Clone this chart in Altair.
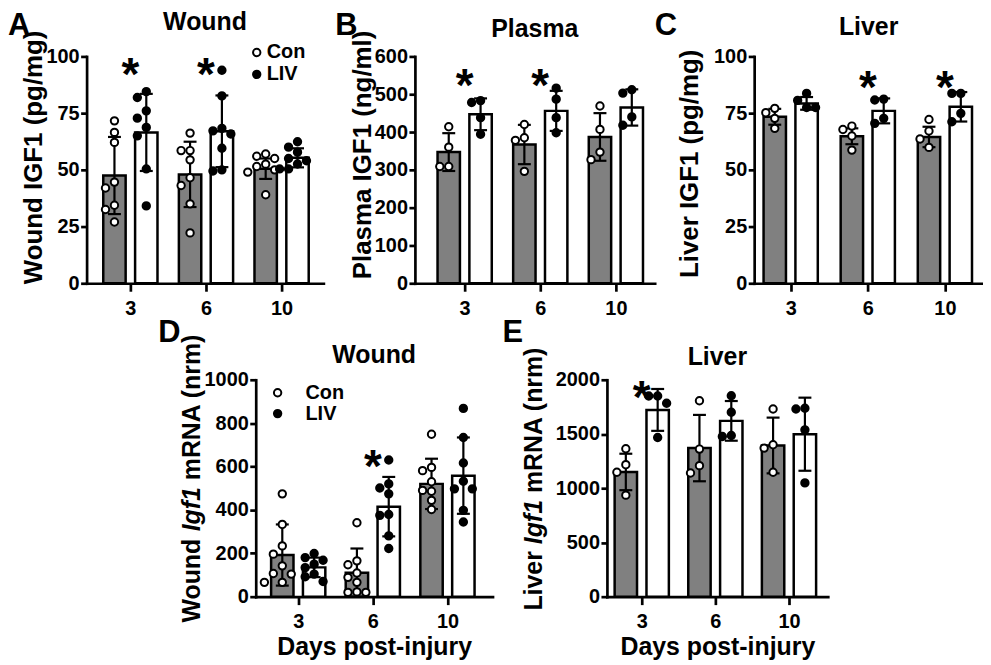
import altair as alt
import pandas as pd

FONT = "Liberation Sans"
days = ["3", "6", "10"]
groups = ["Con", "LIV"]

# ---------------- Panel A: Wound IGF1 (pg/mg)
a_con = [[71.6, 66.5, 62.1, 44.6, 42.0, 34.4, 32.5, 27.0],
         [66.2, 58.5, 58.5, 54.4, 46.5, 43.1, 35.0, 22.2],
         [57.0, 56.0, 55.0, 52.5, 51.5, 50.0, 49.0, 39.0]]
a_liv = [[84.5, 81.9, 76.0, 72.8, 68.7, 65.0, 50.4, 34.1],
         [93.9, 82.6, 68.3, 67.2, 65.8, 59.5, 50.0, 49.5],
         [62.4, 60.0, 57.8, 55.0, 54.0, 52.6, 50.4, 50.4]]
a_con_mean = [47.5, 48.0, 50.5]
a_con_sd = [17.0, 14.4, 4.5]
a_liv_mean = [66.5, 67.0, 55.3]
a_liv_sd = [17.0, 15.8, 4.2]
a_star_days = ["3", "6"]
a_star_y = [97, 97]

# ---------------- Panel B: Plasma IGF1 (ng/ml)
b_con = [[414, 360, 309, 309], [420, 385, 378, 296], [469, 407, 347, 327]]
b_liv = [[483, 478, 438, 394], [516, 487, 438, 398], [512, 503, 440, 418]]
b_con_mean = [347, 367, 387]
b_con_sd = [50, 52, 63]
b_liv_mean = [447, 456, 465]
b_liv_sd = [42, 53, 48]
b_star_days = ["3", "6"]
b_star_y = [553, 553]

# ---------------- Panel C: Liver IGF1 (pg/mg)
c_con = [[77.1, 75.2, 72.7, 68.3], [69.3, 67.8, 64.9, 58.7], [72.2, 67.1, 63.6, 59.9]]
c_liv = [[83.7, 80.6, 77.5, 77.5], [81.2, 80.8, 72.7, 70.5], [83.7, 83.7, 74.9, 71.2]]
c_con_mean = [73.4, 64.8, 64.5]
c_con_sd = [3.5, 3.5, 4.5]
c_liv_mean = [79.3, 76.0, 77.8]
c_liv_sd = [2.8, 5.5, 6.5]
c_star_days = ["6", "10"]
c_star_y = [91.4, 91.4]

# ---------------- Panel D: Wound Igf1 mRNA (nrm)
d_con = [[474, 333, 234, 196, 142, 107, 104, 66, 66],
         [341, 165, 147, 109, 89, 66, 22, 20, 20],
         [749, 596, 581, 530, 490, 486, 444, 402]]
d_liv = [[199, 180, 168, 150, 134, 104, 92, 70],
         [630, 520, 501, 474, 379, 375, 280, 222],
         [868, 734, 616, 532, 497, 497, 398, 344]]
d_con_mean = [192, 110, 520]
d_con_sd = [141, 112, 116]
d_liv_mean = [135, 415, 558]
d_liv_sd = [45, 137, 176]
d_star_days = ["6"]
d_star_y = [654]

# ---------------- Panel E: Liver Igf1 mRNA (nrm)
e_con = [[1364, 1217, 1147, 936], [1807, 1361, 1208, 1140], [1731, 1401, 1370, 1147]]
e_liv = [[1850, 1850, 1783, 1468], [1853, 1700, 1486, 1477], [1737, 1731, 1538, 1049]]
e_con_mean = [1150, 1370, 1394]
e_con_sd = [168, 306, 257]
e_liv_mean = [1722, 1621, 1498]
e_liv_sd = [193, 183, 337]
e_star_days = ["3"]
e_star_y = [1940]

# Arial/Liberation bold advance widths (em) for composing mixed-style titles
ADV = {"W": 0.944, "o": 0.611, "u": 0.611, "n": 0.611, "d": 0.611, " ": 0.278,
       "L": 0.611, "i": 0.278, "v": 0.556, "e": 0.556, "r": 0.389, "I": 0.278,
       "g": 0.611, "f": 0.333, "1": 0.556}


def text_width(s, fs):
    return sum(ADV.get(ch, 0.6) for ch in s) * fs


def swarm(vals, ppu, diam=9.0):
    order = sorted(range(len(vals)), key=lambda i: -vals[i])
    placed, slots = [], [0] * len(vals)
    for i in order:
        y = vals[i] * ppu
        for s in (0, -1, 1, -2, 2, -3, 3):
            if all(abs(y - py) >= diam for ps, py in placed if ps == s):
                break
        placed.append((s, y))
        slots[i] = s
    return slots


dummy = pd.DataFrame({"k": [0]})
LEFT_EDGE = -79


def txt(text, x, y, **kw):
    opts = dict(font=FONT, color="black", fontWeight="bold")
    opts.update(kw)
    return alt.Chart(dummy).mark_text(text=text, **opts).encode(
        x=alt.value(x), y=alt.value(y))


def dot(x, y, fill):
    return alt.Chart(dummy).mark_point(
        shape="circle", filled=True, size=55, stroke="black", strokeWidth=2,
        fill=fill, opacity=1).encode(x=alt.value(x), y=alt.value(y))


def panel(p):
    W, H, step, left = p["W"], p["H"], p["step"], p["left"]
    u = 1.0 / step
    xdom = [-left * u, (W - left) * u]
    ppu = H / p["ymax"]
    bars, pts = [], []
    for gi, g in enumerate(groups):
        sign = -1 if gi == 0 else 1
        for di, d in enumerate(days):
            xc = di + sign * 16 * u
            m, s = p["mean"][gi][di], p["sd"][gi][di]
            bars.append(dict(group=g, day=d, xc=xc, xl=xc - 11.25 * u,
                             xr=xc + 11.25 * u, mean=m, zero=0,
                             lo=max(0, m - s), hi=m + s,
                             cl=xc - 6.5 * u, cr=xc + 6.5 * u))
            vals = p["vals"][gi][di]
            for v, k in zip(vals, swarm(vals, ppu)):
                pts.append(dict(group=g, day=d, xp=xc + k * 9 * u, value=v))
    dfb = pd.DataFrame(bars)
    dfp = pd.DataFrame(pts)
    dfs = pd.DataFrame({"xs": [days.index(d) for d in p["star_days"]],
                        "ys": p["star_y"]})

    label_expr = "[" + ",".join("'%s'" % d for d in days) + "][datum.value]"
    xs = alt.Scale(domain=xdom, nice=False, zero=False)
    ys = alt.Scale(domain=[0, p["ymax"]], nice=False)
    xax = alt.Axis(values=[0, 1, 2], labelExpr=label_expr, title=p["xtitle"],
                   tickSize=8, labelPadding=7.5, titlePadding=3,
                   labelFlush=False, grid=False)
    yax = alt.Axis(values=p["yticks"], title=None, tickSize=6, labelPadding=1.5,
                   labelFlush=False, grid=False, format="d")

    def X(f):
        return alt.X(f + ":Q", scale=xs, axis=xax)

    def Y(f):
        return alt.Y(f + ":Q", scale=ys, axis=yax)

    bar = alt.Chart(dfb).mark_rect(stroke="black", strokeWidth=2.5).encode(
        x=X("xl"), x2="xr", y=Y("mean"), y2="zero",
        fill=alt.Fill("group:N", scale=alt.Scale(domain=groups, range=["#808080", "#ffffff"]),
                      legend=None))
    err = alt.Chart(dfb).mark_rule(color="black", strokeWidth=2.2).encode(
        x=X("xc"), y=Y("lo"), y2="hi")
    cap_hi = alt.Chart(dfb).mark_rule(color="black", strokeWidth=2.2).encode(
        x=X("cl"), x2="cr", y=Y("hi"))
    cap_lo = alt.Chart(dfb).mark_rule(color="black", strokeWidth=2.2).encode(
        x=X("cl"), x2="cr", y=Y("lo"))
    pt = alt.Chart(dfp).mark_point(shape="circle", filled=True, size=55, stroke="black",
                                   strokeWidth=2, opacity=1).encode(
        x=X("xp"), y=Y("value"),
        fill=alt.Fill("group:N", scale=alt.Scale(domain=groups, range=["#ffffff", "#000000"]),
                      legend=None))
    star = alt.Chart(dfs).mark_text(text="*", font=FONT, fontSize=46, fontWeight="bold",
                                    baseline="middle", dy=13, color="black").encode(
        x=X("xs"), y=Y("ys"))

    layers = [bar, err, cap_hi, cap_lo, pt, star]

    # panel title
    layers.append(txt(p["title"], W / 2, -p["toff"], align="center",
                      baseline="alphabetic", fontSize=25))

    # y-axis title (possibly with an italic gene symbol)
    fs = p["ytfs"]
    segs = p["ytitle"]
    if len(segs) == 1:
        layers.append(txt(segs[0][0], p["ytx"], p["ytcy"], angle=270, align="center",
                          baseline="alphabetic", fontSize=fs))
    else:
        yb = p["ytb"]
        for s, style in segs:
            layers.append(txt(s, p["ytx"], yb, angle=270, align="left",
                              baseline="alphabetic", fontSize=fs, fontStyle=style))
            yb -= text_width(s + " ", fs)

    # panel letter
    lx, ly = p["letter_pos"]
    layers.append(txt(p["letter"], lx, ly, align="left", baseline="top", fontSize=31))

    # legend
    if p.get("legend"):
        cx, y1, y2, tx = p["legend"]
        layers += [dot(cx, y1, "white"), dot(cx, y2, "black"),
                   txt(groups[0], tx, y1, align="left", baseline="middle", fontSize=20),
                   txt(groups[1], tx, y2, align="left", baseline="middle", fontSize=20)]

    return alt.layer(*layers).resolve_scale(fill="independent").properties(
        width=W, height=H)


pA = dict(W=238, H=228, ymax=100, yticks=[0, 25, 50, 75, 100], step=76, left=44,
          vals=[a_con, a_liv], mean=[a_con_mean, a_liv_mean], sd=[a_con_sd, a_liv_sd],
          star_days=a_star_days, star_y=a_star_y, title="Wound", toff=27,
          ytitle=[("Wound IGF1 (pg/mg)", "normal")], ytfs=26, ytx=-45, ytcy=101.5,
          letter="A", letter_pos=(LEFT_EDGE, -46), legend=(171, -4, 18, 181), xtitle=None)
pB = dict(W=241, H=228, ymax=600, yticks=[0, 100, 200, 300, 400, 500, 600], step=76, left=50,
          vals=[b_con, b_liv], mean=[b_con_mean, b_liv_mean], sd=[b_con_sd, b_liv_sd],
          star_days=b_star_days, star_y=b_star_y, title="Plasma", toff=20,
          ytitle=[("Plasma IGF1 (ng/ml)", "normal")], ytfs=26, ytx=-44, ytcy=99,
          letter="B", letter_pos=(-80, -46), xtitle=None)
pC = dict(W=230, H=228, ymax=100, yticks=[0, 25, 50, 75, 100], step=77.5, left=36.7,
          vals=[c_con, c_liv], mean=[c_con_mean, c_liv_mean], sd=[c_con_sd, c_liv_sd],
          star_days=c_star_days, star_y=c_star_y, title="Liver", toff=22,
          ytitle=[("Liver IGF1 (pg/mg)", "normal")], ytfs=26, ytx=-56, ytcy=108,
          letter="C", letter_pos=(-100, -46), xtitle=None)
pD = dict(W=238, H=218, ymax=1000, yticks=[0, 200, 400, 600, 800, 1000], step=75, left=42.7,
          vals=[d_con, d_liv], mean=[d_con_mean, d_liv_mean], sd=[d_con_sd, d_liv_sd],
          star_days=d_star_days, star_y=d_star_y, title="Wound", toff=17,
          ytitle=[("Wound", "normal"), ("Igf1", "italic"), ("mRNA (nrm)", "normal")],
          ytfs=25, ytx=-56, ytb=244,
          letter="D", letter_pos=(-98, -62), legend=(22, 13, 34, 50),
          xtitle="Days post-injury")
pE = dict(W=222, H=218, ymax=2000, yticks=[0, 500, 1000, 1500, 2000], step=74, left=35,
          vals=[e_con, e_liv], mean=[e_con_mean, e_liv_mean], sd=[e_con_sd, e_liv_sd],
          star_days=e_star_days, star_y=e_star_y, title="Liver", toff=15,
          ytitle=[("Liver", "normal"), ("Igf1", "italic"), ("mRNA (nrm)", "normal")],
          ytfs=25, ytx=-65, ytb=232,
          letter="E", letter_pos=(-105, -62), xtitle="Days post-injury")


def spacer(w, xmark=0):
    return alt.Chart(dummy).mark_text(text=".", opacity=0, align="left",
                                      baseline="top", fontSize=2).encode(
        x=alt.value(xmark), y=alt.value(0)).properties(width=w, height=20)


top = alt.hconcat(panel(pA), spacer(92), panel(pB), spacer(100), panel(pC),
                  spacing=0, bounds="flush")
bottom = alt.hconcat(spacer(170, LEFT_EDGE), panel(pD), spacer(115), panel(pE),
                     spacing=0, bounds="flush")

chart = alt.vconcat(top, bottom, spacing=-2).properties(
    padding=0, background="white"
).configure_view(stroke=None).configure_axis(
    domainColor="black", domainWidth=2.7, domainCap="square",
    tickColor="black", tickWidth=2.7,
    labelColor="black", labelFont=FONT, labelFontSize=20, labelFontWeight="bold",
    titleColor="black", titleFont=FONT, titleFontSize=25, titleFontWeight="bold",
    labelOverlap=False
)

chart.save("out.html", embed_options={"renderer": "svg", "actions": False})
